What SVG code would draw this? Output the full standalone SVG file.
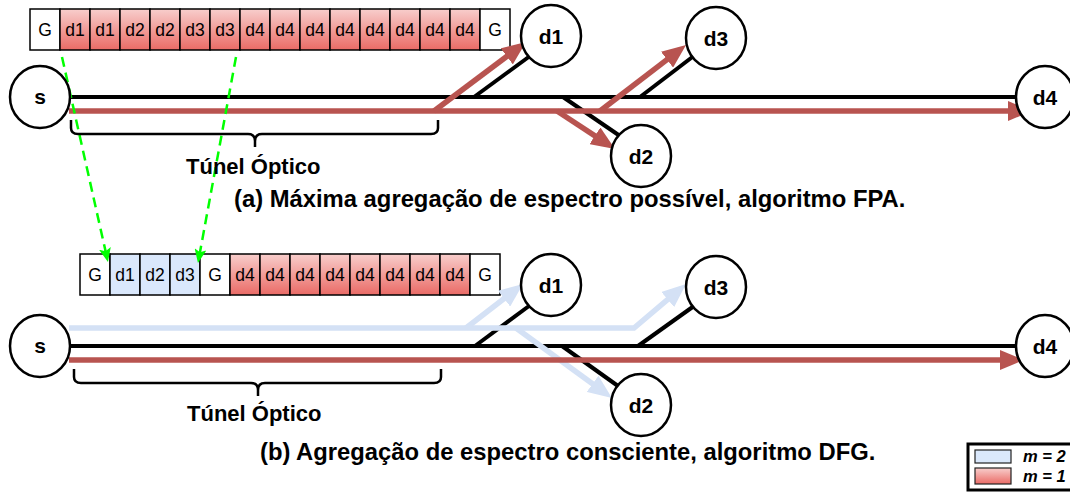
<svg xmlns="http://www.w3.org/2000/svg" width="1070" height="492" viewBox="0 0 1070 492">
<style>
.cell{stroke:#000;stroke-width:1.5}
.g{fill:#fff}
.r{fill:url(#redGrad)}
.b{fill:#dae8fc}
.ct{font-family:"Liberation Sans",Arial,sans-serif;font-size:17.5px;text-anchor:middle;fill:#000}
.node{fill:#fff;stroke:#000;stroke-width:2.5}
.nt{font-family:"Liberation Sans",Arial,sans-serif;font-size:21px;font-weight:bold;text-anchor:middle;fill:#000}
.blk{stroke:#000;stroke-width:4;fill:none}
.red{stroke:#b85450;stroke-width:5.5;fill:none;marker-end:url(#arrRed)}
.blue{stroke:#d4e1f5;stroke-width:5.5;fill:none;marker-end:url(#arrBlue)}
.grn{stroke:#00ff00;stroke-width:2.5;stroke-dasharray:10 6;fill:none;marker-end:url(#arrGrn)}
.brace{stroke:#000;stroke-width:2.5;fill:none}
.lbl{font-family:"Liberation Sans",Arial,sans-serif;font-size:22px;font-weight:bold;fill:#000}
.cap{font-family:"Liberation Sans",Arial,sans-serif;font-size:23.8px;font-weight:bold;fill:#000}
.lg{font-family:"Liberation Sans",Arial,sans-serif;font-size:16.5px;font-weight:bold;font-style:italic;fill:#000}
</style>
<defs>
<linearGradient id="redGrad" x1="0" y1="0" x2="0" y2="1">
<stop offset="0" stop-color="#f8cecc"/>
<stop offset="1" stop-color="#ea6b66"/>
</linearGradient>
<marker id="arrRed" markerUnits="userSpaceOnUse" markerWidth="24" markerHeight="20" viewBox="0 0 24 20" refX="16" refY="10" orient="auto"><path d="M0,0 L24,10 L0,20 z" fill="#b85450"/></marker>
<marker id="arrBlue" markerUnits="userSpaceOnUse" markerWidth="24" markerHeight="20" viewBox="0 0 24 20" refX="16" refY="10" orient="auto"><path d="M0,0 L24,10 L0,20 z" fill="#d4e1f5"/></marker>
<marker id="arrGrn" markerUnits="userSpaceOnUse" markerWidth="14" markerHeight="12" viewBox="0 0 14 12" refX="10" refY="6" orient="auto"><path d="M0,0 L14,6 L0,12 L3,6 z" fill="#00ff00"/></marker>
</defs>
<rect width="1070" height="492" fill="#fff"/>

<g id="bar-a">
<rect class="cell g" x="30" y="9" width="30" height="41"/>
<rect class="cell r" x="60" y="9" width="30" height="41"/>
<rect class="cell r" x="90" y="9" width="30" height="41"/>
<rect class="cell r" x="120" y="9" width="30" height="41"/>
<rect class="cell r" x="150" y="9" width="30" height="41"/>
<rect class="cell r" x="180" y="9" width="30" height="41"/>
<rect class="cell r" x="210" y="9" width="30" height="41"/>
<rect class="cell r" x="240" y="9" width="30" height="41"/>
<rect class="cell r" x="270" y="9" width="30" height="41"/>
<rect class="cell r" x="300" y="9" width="30" height="41"/>
<rect class="cell r" x="330" y="9" width="30" height="41"/>
<rect class="cell r" x="360" y="9" width="30" height="41"/>
<rect class="cell r" x="390" y="9" width="30" height="41"/>
<rect class="cell r" x="420" y="9" width="30" height="41"/>
<rect class="cell r" x="450" y="9" width="30" height="41"/>
<rect class="cell g" x="480" y="9" width="30" height="41"/>
<text class="ct" x="45" y="35.5">G</text>
<text class="ct" x="75" y="35.5">d1</text>
<text class="ct" x="105" y="35.5">d1</text>
<text class="ct" x="135" y="35.5">d2</text>
<text class="ct" x="165" y="35.5">d2</text>
<text class="ct" x="195" y="35.5">d3</text>
<text class="ct" x="225" y="35.5">d3</text>
<text class="ct" x="255" y="35.5">d4</text>
<text class="ct" x="285" y="35.5">d4</text>
<text class="ct" x="315" y="35.5">d4</text>
<text class="ct" x="345" y="35.5">d4</text>
<text class="ct" x="375" y="35.5">d4</text>
<text class="ct" x="405" y="35.5">d4</text>
<text class="ct" x="435" y="35.5">d4</text>
<text class="ct" x="465" y="35.5">d4</text>
<text class="ct" x="495" y="35.5">G</text>
</g>

<g id="bar-b">
<rect class="cell g" x="80" y="254" width="30" height="41"/>
<rect class="cell b" x="110" y="254" width="30" height="41"/>
<rect class="cell b" x="140" y="254" width="30" height="41"/>
<rect class="cell b" x="170" y="254" width="30" height="41"/>
<rect class="cell g" x="200" y="254" width="30" height="41"/>
<rect class="cell r" x="230" y="254" width="30" height="41"/>
<rect class="cell r" x="260" y="254" width="30" height="41"/>
<rect class="cell r" x="290" y="254" width="30" height="41"/>
<rect class="cell r" x="320" y="254" width="30" height="41"/>
<rect class="cell r" x="350" y="254" width="30" height="41"/>
<rect class="cell r" x="380" y="254" width="30" height="41"/>
<rect class="cell r" x="410" y="254" width="30" height="41"/>
<rect class="cell r" x="440" y="254" width="30" height="41"/>
<rect class="cell g" x="470" y="254" width="30" height="41"/>
<text class="ct" x="95" y="280.5">G</text>
<text class="ct" x="125" y="280.5">d1</text>
<text class="ct" x="155" y="280.5">d2</text>
<text class="ct" x="185" y="280.5">d3</text>
<text class="ct" x="215" y="280.5">G</text>
<text class="ct" x="245" y="280.5">d4</text>
<text class="ct" x="275" y="280.5">d4</text>
<text class="ct" x="305" y="280.5">d4</text>
<text class="ct" x="335" y="280.5">d4</text>
<text class="ct" x="365" y="280.5">d4</text>
<text class="ct" x="395" y="280.5">d4</text>
<text class="ct" x="425" y="280.5">d4</text>
<text class="ct" x="455" y="280.5">d4</text>
<text class="ct" x="485" y="280.5">G</text>
</g>

<g id="connectors">
<line class="blk" x1="70" y1="97" x2="1016" y2="97"/>
<line class="blk" x1="474" y1="97" x2="530" y2="56"/>
<line class="blk" x1="640" y1="97" x2="695" y2="55"/>
<line class="blk" x1="563" y1="97" x2="620" y2="136"/>
<line class="red" x1="69" y1="111" x2="1024" y2="111"/>
<line class="red" x1="434" y1="111" x2="519.6" y2="46.8"/>
<line class="red" x1="600" y1="111" x2="679.7" y2="49.9"/>
<line class="red" x1="557" y1="111" x2="608.3" y2="144.6"/>
<line class="blk" x1="70" y1="346" x2="1016" y2="346"/>
<line class="blk" x1="475" y1="346" x2="529" y2="306"/>
<line class="blk" x1="638" y1="346" x2="694" y2="306"/>
<line class="blk" x1="562" y1="346" x2="618" y2="386"/>
<polyline class="blue" points="69,328 634,328 679.9,289.2"/>
<line class="blue" x1="466" y1="328" x2="516.7" y2="288.9"/>
<line class="blue" x1="516" y1="328" x2="605.5" y2="393.3"/>
<line class="red" x1="69" y1="360" x2="1016" y2="360"/>
<line class="grn" x1="62" y1="57" x2="107.1" y2="258.1"/>
<line class="grn" x1="236" y1="57" x2="198.7" y2="259.1"/>
</g>

<g id="node-s-a"><ellipse class="node" cx="40" cy="97" rx="30" ry="31"/><text class="nt" x="40" y="104">s</text></g>
<g id="node-d1-a"><ellipse class="node" cx="551" cy="36" rx="30" ry="31"/><text class="nt" x="551" y="43.5">d1</text></g>
<g id="node-d3-a"><ellipse class="node" cx="716" cy="38" rx="30" ry="31"/><text class="nt" x="716" y="45.5">d3</text></g>
<g id="node-d2-a"><ellipse class="node" cx="641" cy="156" rx="30" ry="31"/><text class="nt" x="641" y="163.5">d2</text></g>
<g id="node-d4-a"><ellipse class="node" cx="1045" cy="97" rx="29" ry="31"/><text class="nt" x="1045" y="104.5">d4</text></g>

<g id="node-s-b"><ellipse class="node" cx="40" cy="346" rx="30" ry="31"/><text class="nt" x="40" y="353">s</text></g>
<g id="node-d1-b"><ellipse class="node" cx="551" cy="285" rx="30" ry="31"/><text class="nt" x="551" y="292.5">d1</text></g>
<g id="node-d3-b"><ellipse class="node" cx="716" cy="287" rx="30" ry="31"/><text class="nt" x="716" y="294.5">d3</text></g>
<g id="node-d2-b"><ellipse class="node" cx="641" cy="405" rx="30" ry="31"/><text class="nt" x="641" y="412.5">d2</text></g>
<g id="node-d4-b"><ellipse class="node" cx="1045" cy="346" rx="29" ry="31"/><text class="nt" x="1045" y="353.5">d4</text></g>

<g id="tunnel-a">
<path class="brace" d="M71,120 L71,128 Q71,134 78,134 L248,134 Q255,134 255,141 L255,147 M255,141 Q255,134 262,134 L431,134 Q438,134 438,128 L438,120"/>
<text class="lbl" x="186" y="174">Túnel Óptico</text>
</g>
<g id="tunnel-b">
<path class="brace" d="M74,369 L74,377 Q74,383 81,383 L251,383 Q258,383 258,390 L258,396 M258,390 Q258,383 265,383 L434,383 Q441,383 441,377 L441,369"/>
<text class="lbl" x="187" y="421">Túnel Óptico</text>
</g>

<text class="cap" x="234" y="207">(a) Máxima agregação de espectro possível, algoritmo FPA.</text>
<text class="cap" x="260" y="460">(b) Agregação de espectro consciente, algoritmo DFG.</text>

<g id="legend">
<rect x="968" y="444" width="120" height="46" fill="#fff" stroke="#000" stroke-width="3"/>
<rect x="975" y="450" width="36" height="13" fill="#dae8fc" stroke="#222" stroke-width="1.2"/>
<rect x="975" y="468" width="36" height="16" fill="url(#redGrad)" stroke="#222" stroke-width="1.2"/>
<text class="lg" x="1023" y="461.5">m = 2</text>
<text class="lg" x="1023" y="481.5">m = 1</text>
</g>
</svg>
